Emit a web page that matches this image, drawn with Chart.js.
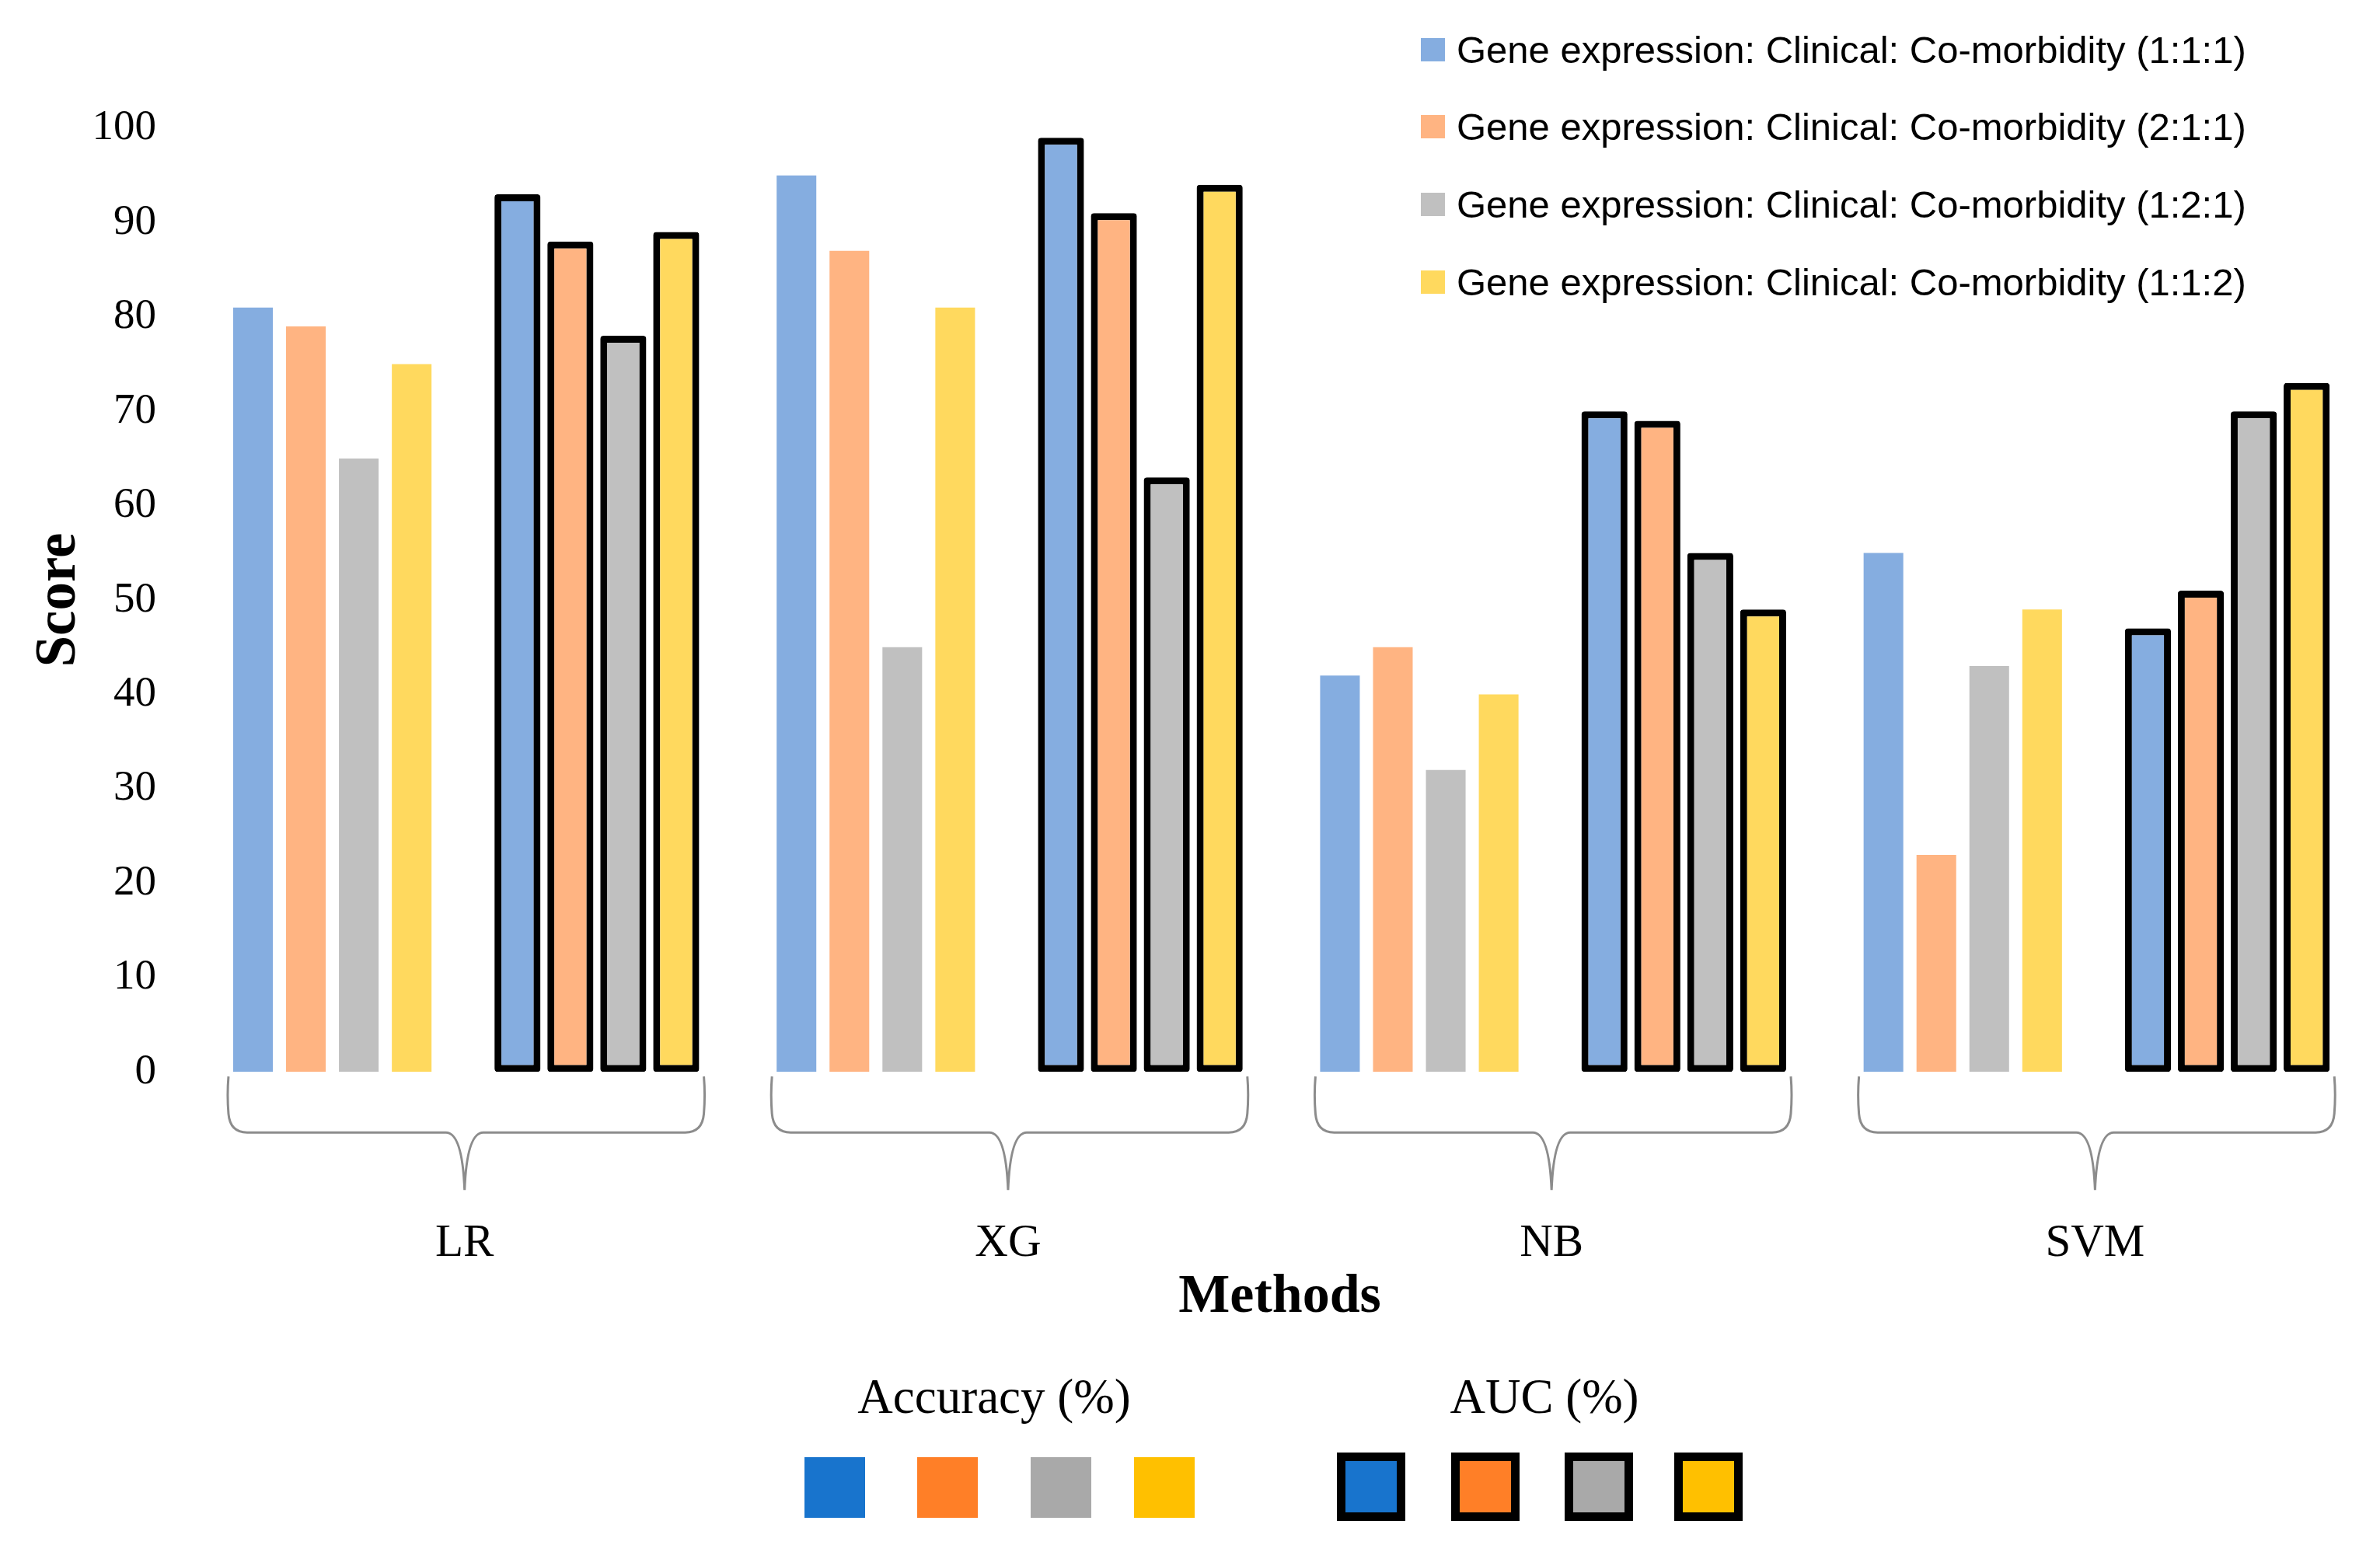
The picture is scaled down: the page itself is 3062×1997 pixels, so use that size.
<!DOCTYPE html>
<html>
<head>
<meta charset="utf-8">
<script src="https://cdn.jsdelivr.net/npm/chart.js@4.4.1/dist/chart.umd.min.js"></script>
<style>
  body { margin: 0; background: #fff; }
  #wrap { position: relative; width: 3062px; height: 1997px; }
  #topLegend { position: absolute; left: 1828px; top: 14px; font-family: 'Liberation Sans', Arial, sans-serif; font-size: 49px; color: #000; }
  .row { height: 99.6px; display: flex; align-items: center; white-space: nowrap; }
  .row .box { width: 31px; height: 30px; margin-right: 15px; }
  .bottomTitle { position: absolute; font-family: 'Liberation Serif', serif; font-size: 63px; color: #000; transform: translate(-50%, -50%); white-space: nowrap; }
  .sq { position: absolute; box-sizing: border-box; }
</style>
</head>
<body>
<div id="wrap">
  <canvas id="scoreChart" width="3062" height="1997"></canvas>
  <div id="topLegend"></div>
  <div id="bottomLegend"></div>
</div>
<script>
const methods = ['LR', 'XG', 'NB', 'SVM'];

const ratioLabels = [
  'Gene expression: Clinical: Co-morbidity (1:1:1)',
  'Gene expression: Clinical: Co-morbidity (2:1:1)',
  'Gene expression: Clinical: Co-morbidity (1:2:1)',
  'Gene expression: Clinical: Co-morbidity (1:1:2)',
];

// Accuracy (%)
const acc111 = [81, 95, 42, 55];
const acc211 = [79, 87, 45, 23];
const acc121 = [65, 45, 32, 43];
const acc112 = [75, 81, 40, 49];

// AUC (%)
const auc111 = [93, 99, 70, 47];
const auc211 = [88, 91, 69, 51];
const auc121 = [78, 63, 55, 70];
const auc112 = [89, 94, 49, 73];

const yMin = 0;
const yMax = 100;
const yStep = 10;

const metricTitles = ['Accuracy (%)', 'AUC (%)'];

// colours
const barColors = ['#85ade0', '#ffb482', '#c0c0c0', '#ffd95e'];
const keyColors = ['#1874cd', '#ff7f27', '#a9a9a9', '#ffc000'];

const accSeries = [acc111, acc211, acc121, acc112];
const aucSeries = [auc111, auc211, auc121, auc112];

const datasets = [];
accSeries.forEach((d, k) => {
  datasets.push({
    label: ratioLabels[k] + ' - Accuracy',
    data: d,
    backgroundColor: barColors[k],
    borderWidth: 0,
    barPercentage: 0.75,
  });
});
// empty slot between the two groups
datasets.push({ label: '', data: methods.map(() => null), backgroundColor: 'rgba(0,0,0,0)' });
aucSeries.forEach((d, k) => {
  datasets.push({
    label: ratioLabels[k] + ' - AUC',
    data: d,
    backgroundColor: barColors[k],
    borderColor: '#000',
    borderWidth: 9,
    borderSkipped: false,
    borderRadius: 4,
    barPercentage: 0.87,
  });
});

const bracePlugin = {
  id: 'braces',
  afterDatasetsDraw(chart) {
    const ctx = chart.ctx;
    const first = chart.getDatasetMeta(0);
    const last = chart.getDatasetMeta(chart.data.datasets.length - 1);
    const xScale = chart.scales.x;
    const yTop = chart.chartArea.bottom + 6;
    const yMid = yTop + 72;
    const yTip = yTop + 146;
    const r = 24;
    ctx.save();
    ctx.strokeStyle = '#8c8c8c';
    ctx.lineWidth = 3;
    methods.forEach((m, i) => {
      const a = first.data[i];
      const b = last.data[i];
      const xl = a.x - a.width / 2 - 6;
      const xr = b.x + b.width / 2 + 6;
      const xc = xScale.getPixelForValue(i);
      ctx.beginPath();
      ctx.moveTo(xl, yTop);
      ctx.quadraticCurveTo(xl - 2, yMid - r * 2, xl, yMid - r);
      ctx.quadraticCurveTo(xl + 2, yMid, xl + r, yMid);
      ctx.lineTo(xc - r, yMid);
      ctx.quadraticCurveTo(xc - 3, yMid, xc, yTip);
      ctx.moveTo(xc, yTip);
      ctx.quadraticCurveTo(xc + 3, yMid, xc + r, yMid);
      ctx.lineTo(xr - r, yMid);
      ctx.quadraticCurveTo(xr - 2, yMid, xr, yMid - r);
      ctx.quadraticCurveTo(xr + 2, yMid - r * 2, xr, yTop);
      ctx.stroke();
    });
    ctx.restore();
  }
};

Chart.defaults.font.family = "'Liberation Serif', 'Times New Roman', serif";
Chart.defaults.color = '#000';

const scoreChart = new Chart(document.getElementById('scoreChart'), {
  type: 'bar',
  data: { labels: methods, datasets: datasets },
  options: {
    responsive: false,
    devicePixelRatio: 1,
    animation: false,
    datasets: { bar: { categoryPercentage: 0.876 } },
    layout: { padding: { left: 33, right: 17, top: 165, bottom: 292 } },
    plugins: {
      legend: { display: false },
      tooltip: { enabled: false },
    },
    scales: {
      x: {
        grid: { display: false, drawTicks: false },
        border: { display: false },
        ticks: { font: { size: 59 }, padding: 186 },
        title: {
          display: true,
          text: 'Methods',
          font: { size: 70, weight: 'bold', lineHeight: 1 },
          padding: { top: -187, bottom: 0 },
        },
      },
      y: {
        min: yMin,
        max: yMax,
        grid: { display: false, drawTicks: false },
        border: { display: false },
        ticks: { stepSize: yStep, font: { size: 55 }, padding: 47 },
        title: {
          display: true,
          text: 'Score',
          font: { size: 73, weight: 'bold', lineHeight: 1.2 },
          padding: { top: 0, bottom: -49 },
        },
      },
    },
  },
  plugins: [bracePlugin],
});

// legend at the top right
const topLegend = document.getElementById('topLegend');
ratioLabels.forEach((t, k) => {
  const row = document.createElement('div');
  row.className = 'row';
  const box = document.createElement('span');
  box.className = 'box';
  box.style.background = barColors[k];
  const txt = document.createElement('span');
  txt.textContent = t;
  row.appendChild(box);
  row.appendChild(txt);
  topLegend.appendChild(row);
});

// key at the bottom
const bottomLegend = document.getElementById('bottomLegend');
const titleCenters = [[1279, 1797], [1987, 1797]];
metricTitles.forEach((t, k) => {
  const el = document.createElement('div');
  el.className = 'bottomTitle';
  el.style.left = titleCenters[k][0] + 'px';
  el.style.top = titleCenters[k][1] + 'px';
  el.textContent = t;
  bottomLegend.appendChild(el);
});
const accKeyLeft = [1035, 1180, 1326, 1459];
const aucKeyLeft = [1720, 1867, 2013, 2154];
keyColors.forEach((c, k) => {
  const a = document.createElement('div');
  a.className = 'sq';
  Object.assign(a.style, { left: accKeyLeft[k] + 'px', top: '1875px', width: '78px', height: '78px', background: c });
  bottomLegend.appendChild(a);
  const b = document.createElement('div');
  b.className = 'sq';
  Object.assign(b.style, { left: aucKeyLeft[k] + 'px', top: '1869px', width: '88px', height: '88px', background: c, border: '11px solid #000' });
  bottomLegend.appendChild(b);
});
</script>
</body>
</html>
